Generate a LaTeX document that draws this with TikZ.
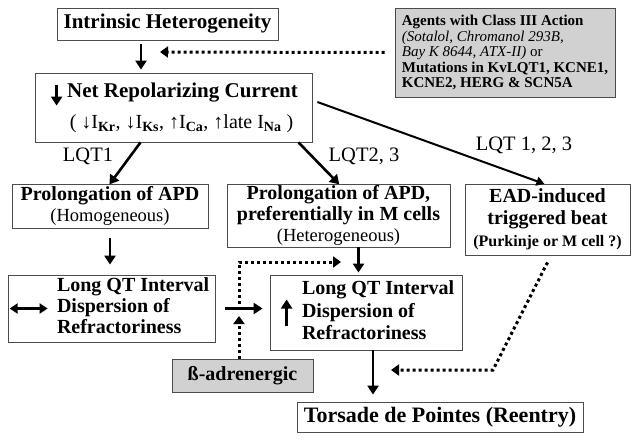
\documentclass[tikz,border=0pt]{standalone}
\usepackage{fontspec}
\setmainfont{Liberation Serif}
\usetikzlibrary{arrows.meta}

\tikzset{
  box/.style={draw=black!70, line width=0.8pt, inner sep=0pt, align=center,
    font=\bfseries\fontsize{20}{21}\selectfont},
  greybox/.style={box, fill=black!18},
  arr/.style={line width=2.6pt, -{Triangle[length=9pt,width=11pt]}},
  thinarr/.style={line width=2pt, -{Triangle[length=8pt,width=9pt]}},
  dotarr/.style={line width=3pt, dash pattern=on 3pt off 3pt,
    -{Triangle[length=8pt,width=11pt]}},
  lbl/.style={font=\fontsize{20.5}{21}\selectfont}
}

\begin{document}
\begin{tikzpicture}[x=1pt, y=1pt]
    \useasboundingbox (0,0) rectangle (639,440);

    % boxes
    \node[box, minimum width=221pt, minimum height=32pt, font=\bfseries\fontsize{21}{21}\selectfont] (intr) at (167.5,416)
        {Intrinsic Heterogeneity};
    \node[greybox, align=left, minimum width=220pt, minimum height=89pt,
          font=\mdseries\fontsize{15}{15.5}\selectfont] (agents) at (505,387.5)
        {\textbf{Agents with Class III Action}\\
         \textit{(Sotalol, Chromanol 293B,}\\
         \textit{Bay K 8644, ATX-II)} or\\
         \textbf{Mutations in KvLQT1, KCNE1,}\\
         \textbf{KCNE2, HERG \& SCN5A}};
    \node[box, minimum width=277pt, minimum height=69pt, font=\bfseries\fontsize{21}{31}\selectfont] (net) at (173.5,332.5)
        {\hspace*{18pt}Net Repolarizing Current\\
         {\mdseries\fontsize{20}{31}\selectfont\hspace*{16pt}( \textbf{↓}I\textsubscript{\textbf{Kr}}, \textbf{↓}I\textsubscript{\textbf{Ks}}, \textbf{↑}I\textsubscript{\textbf{Ca}}, \textbf{↑}late I\textsubscript{\textbf{Na}} )}};
    \node[box, minimum width=196pt, minimum height=44pt] (apd) at (110,234)
        {Prolongation of APD\\{\mdseries\fontsize{18.5}{20}\selectfont (Homogeneous)}};
    \node[box, minimum width=223pt, minimum height=63pt] (mcell) at (338.5,224.5)
        {Prolongation of APD,\\preferentially in M cells\\{\mdseries\fontsize{18.5}{20}\selectfont (Heterogeneous)}};
    \node[box, minimum width=165pt, minimum height=71pt, font=\bfseries\fontsize{20}{22}\selectfont] (ead) at (547.5,220.5)
        {EAD-induced\\triggered beat\\{\fontsize{16}{18}\selectfont (Purkinje or M cell ?)}};
    \node[box, minimum height=67pt] (lqtl) at (111.5,131.5)
        {\makebox[207pt][l]{\hspace*{49pt}\begin{tabular}{@{}l@{}}Long QT Interval\\Dispersion of\\Refractoriness\end{tabular}}};
    \node[box, minimum height=75pt, font=\bfseries\fontsize{20}{22.5}\selectfont] (lqtr) at (366,127.5)
        {\makebox[192pt][l]{\hspace*{32pt}\begin{tabular}{@{}l@{}}Long QT Interval\\Dispersion of\\Refractoriness\end{tabular}}};
    \node[greybox, minimum width=141pt, minimum height=33pt] (beta) at (242.5,64.5)
        {ß-adrenergic};
    \node[box, minimum width=286pt, minimum height=30pt, font=\bfseries\fontsize{22}{22}\selectfont] (tdp) at (440,23)
        {Torsade de Pointes (Reentry)};

    % labels
    \node[lbl] (lqtone) at (88,284) {LQT1};
    \node[lbl] (lqttwo) at (364,284) {LQT2, 3};
    \node[lbl] (lqtall) at (524,295) {LQT 1, 2, 3};

    % free ends
    \coordinate (d1) at (160,388);
    \coordinate (d2) at (341,178);
    \coordinate (j) at (239,131);
    \coordinate (c1) at (493,70);
    \coordinate (d3) at (391,70);

    % arrows inside boxes
    \draw[arr] ([shift={(22,-12)}]net.north west) -- ++(0,-21);
    \draw[line width=2.6pt, {Triangle[length=8pt,width=10pt]}-{Triangle[length=8pt,width=10pt]}]
        ([xshift=2pt]lqtl.west) -- ++(38,0);
    \draw[arr] ([shift={(17,-13)}]lqtr.west) -- ++(0,26);

    % connectors
    \draw[arr, shorten <=4pt, shorten >=3pt] ([xshift=-26.5pt]intr.south) -- ([xshift=-26.5pt]intr.south |- net.north);
    \draw[dotarr] ([xshift=-10pt]agents.west) -- (d1);
    \draw[thinarr, shorten >=-1pt] ([shift={(5,5.5)}]net.east) -- ([xshift=-4pt]ead.north);
    \draw[arr, shorten >=-1pt] ([xshift=-33pt]net.south) -- (apd.north);
    \draw[arr, shorten >=-1pt] ([xshift=125pt]net.south) -- (mcell.north);
    \draw[arr, shorten <=10pt, shorten >=10pt] (apd.south) -- (apd.south |- lqtl.north);
    \draw[arr, shorten >=2pt] ([xshift=20pt]mcell.south) -- ([xshift=20pt]mcell.south |- lqtr.north);
    \draw[arr, shorten <=10pt, shorten >=7pt] (lqtl.east) -- (lqtl.east -| lqtr.west);
    \draw[dotarr] ([yshift=5pt]j) |- (d2);
    \draw[dotarr] ([xshift=-3.5pt]beta.north) -- ([yshift=-7pt]j);
    \draw[arr, shorten >=7pt] ([xshift=7pt]lqtr.south) -- ([xshift=7pt]lqtr.south |- tdp.north);
    \draw[dotarr] ([yshift=-7pt]ead.south) -- (c1) -- (d3);
\end{tikzpicture}
\end{document}
